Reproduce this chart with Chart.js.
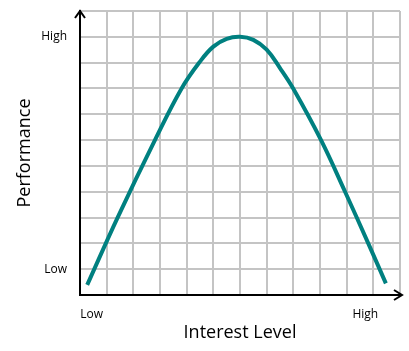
<!DOCTYPE html>
<html>
<head>
<meta charset="utf-8">
<script src="https://cdn.jsdelivr.net/npm/chart.js@4.4.1/dist/chart.umd.min.js"></script>
<style>
  html, body { margin: 0; padding: 0; background: #ffffff; }
  #wrap { width: 409px; height: 351px; position: relative; }
</style>
</head>
<body>
<div id="wrap"><canvas id="c"></canvas></div>
<script>
// ---- data (grid units: x 0..12, y 0..11) ----
const curveX = [0.27, 1.41, 2.81, 3.81, 4.5, 5.0, 5.5, 6.0, 6.5, 7.0, 7.5, 8.0, 9.04, 9.94, 10.81, 11.47];
const curveY = [0.39, 3.0, 6.0, 8.0, 9.04, 9.62, 9.92, 10.0, 9.88, 9.5, 8.79, 7.99, 6.0, 4.0, 2.0, 0.45];
const xTickValues = [0.44, 10.7];
const xTickLabels = ['Low', 'High'];
const yTickValues = [1, 10];
const yTickLabels = ['Low', 'High'];
const xTitle = 'Interest Level';
const yTitle = 'Performance';
const xMax = 12;
const yMax = 11;

const points = curveX.map((x, i) => ({ x: x, y: curveY[i] }));

const arrowPlugin = {
  id: 'arrows',
  afterDraw(chart) {
    const { ctx, chartArea: a } = chart;
    ctx.save();
    ctx.strokeStyle = '#000';
    ctx.lineWidth = 2;
    ctx.lineCap = 'butt';
    ctx.lineJoin = 'miter';
    // y-axis arrow
    ctx.beginPath();
    ctx.moveTo(a.left - 5, a.top + 7);
    ctx.lineTo(a.left, a.top);
    ctx.lineTo(a.left + 5, a.top + 7);
    ctx.stroke();
    // x-axis arrow
    ctx.beginPath();
    ctx.moveTo(a.right - 1, a.bottom);
    ctx.lineTo(a.right + 2, a.bottom);
    ctx.stroke();
    ctx.beginPath();
    ctx.moveTo(a.right - 6, a.bottom - 5);
    ctx.lineTo(a.right + 2, a.bottom);
    ctx.lineTo(a.right - 6, a.bottom + 5);
    ctx.stroke();
    ctx.restore();
  }
};

const gridColor = '#c4c4c4';

new Chart(document.getElementById('c'), {
  type: 'line',
  data: {
    datasets: [{
      data: points,
      borderColor: '#008080',
      borderWidth: 4,
      borderCapStyle: 'butt',
      pointRadius: 0,
      fill: false,
      tension: 0.4
    }]
  },
  options: {
    responsive: true,
    maintainAspectRatio: false,
    animation: false,
    layout: { padding: { top: 11, right: 9, left: 0, bottom: 0 } },
    plugins: { legend: { display: false }, tooltip: { enabled: false } },
    scales: {
      x: {
        type: 'linear',
        min: 0,
        max: xMax,
        afterBuildTicks(scale) {
          const t = [];
          for (let v = 0; v <= xMax; v++) t.push({ value: v });
          xTickValues.forEach(v => t.push({ value: v }));
          t.sort((p, q) => p.value - q.value);
          scale.ticks = t;
        },
        afterFit(scale) {
          scale.height = 56;
          scale.paddingLeft = 0; scale.paddingRight = 0;
          scale.paddingTop = 0; scale.paddingBottom = 0;
        },
        grid: {
          drawTicks: false,
          lineWidth: 2,
          color: (c) => (c.tick && Number.isInteger(c.tick.value)) ? gridColor : 'rgba(0,0,0,0)'
        },
        border: { display: true, color: '#000', width: 2 },
        ticks: {
          autoSkip: false,
          maxRotation: 0,
          padding: 12,
          color: '#000',
          font: { family: 'Open Sans', size: 12 },
          callback(v) {
            const i = xTickValues.indexOf(v);
            return i >= 0 ? xTickLabels[i] : '';
          }
        },
        title: {
          display: true,
          text: xTitle,
          color: '#000',
          font: { family: 'Open Sans', size: 18 },
          padding: { top: 0, bottom: 7 }
        }
      },
      y: {
        type: 'linear',
        min: 0,
        max: yMax,
        afterBuildTicks(scale) {
          const t = [];
          for (let v = 0; v <= yMax; v++) t.push({ value: v });
          scale.ticks = t;
        },
        afterFit(scale) {
          scale.width = 80;
          scale.paddingLeft = 0; scale.paddingRight = 0;
          scale.paddingTop = 0; scale.paddingBottom = 0;
        },
        grid: { drawTicks: false, lineWidth: 2, color: gridColor },
        border: { display: true, color: '#000', width: 2 },
        ticks: {
          autoSkip: false,
          padding: 13,
          color: '#000',
          font: { family: 'Open Sans', size: 12 },
          callback(v) {
            const i = yTickValues.indexOf(v);
            return i >= 0 ? yTickLabels[i] : '';
          }
        },
        title: {
          display: true,
          text: yTitle,
          color: '#000',
          font: { family: 'Open Sans', size: 18 },
          padding: { top: 14, bottom: 0 }
        }
      }
    }
  },
  plugins: [arrowPlugin]
});
</script>
</body>
</html>
